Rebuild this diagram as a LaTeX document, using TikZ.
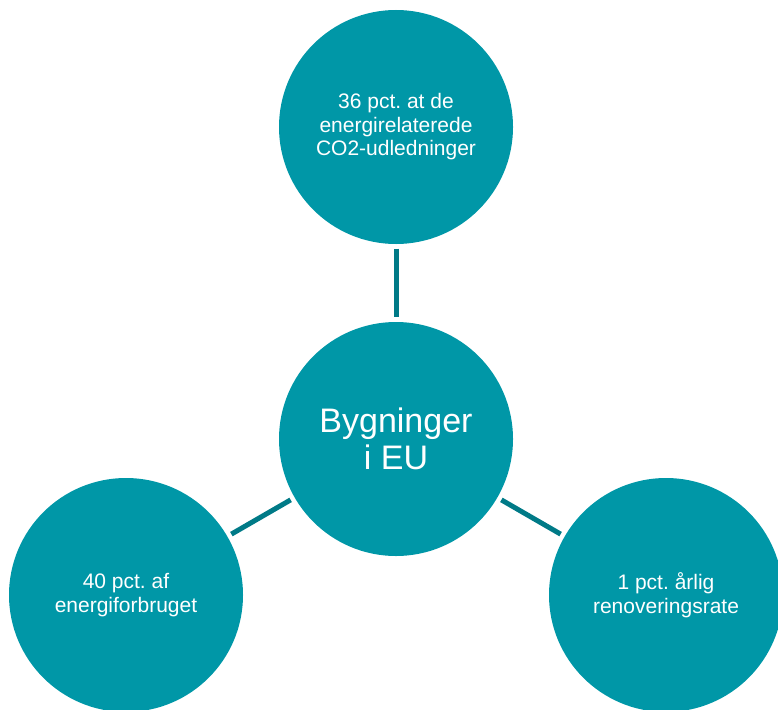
\documentclass[tikz,border=0pt]{standalone}
\usepackage{fontspec}
\setmainfont{Liberation Sans}
\definecolor{circfill}{RGB}{0,151,167}
\definecolor{linkcol}{RGB}{0,122,135}
\begin{document}
\frenchspacing
\begin{tikzpicture}[x=1pt,y=-1pt,
  bubble/.style={circle,fill=circfill,draw=none,minimum size=234pt,inner sep=0pt,
    text=white,align=center,font=\fontsize{21}{23.5}\selectfont\frenchspacing},
  hub/.style={bubble,font=\fontsize{34}{37}\selectfont},
  link/.style={draw=linkcol,line width=5pt,shorten <=4.5pt,shorten >=4.5pt}]
\useasboundingbox (0,0) rectangle (778,709);
\clip (0,0) rectangle (778,709);
\node[hub] (c) at (396,439) {Bygninger\\i EU};
\node[bubble] (t) at (396,127) {36 pct. at de\\energirelaterede\\CO2-udledninger};
\node[bubble] (l) at (126,595) {40 pct. af\\energiforbruget};
\node[bubble] (r) at (666,595) {1 pct. årlig\\renoveringsrate};
\draw[link] (t) -- (c);
\draw[link] (l) -- (c);
\draw[link] (r) -- (c);
\end{tikzpicture}
\end{document}
